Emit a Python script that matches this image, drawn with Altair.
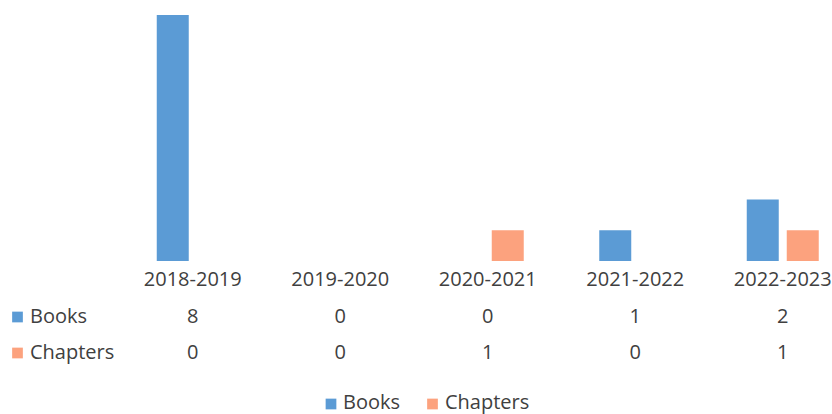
import altair as alt
import pandas as pd

years = ["2018-2019", "2019-2020", "2020-2021", "2021-2022", "2022-2023"]
series = ["Books", "Chapters"]
books = [8, 0, 0, 1, 2]
chapters = [0, 0, 1, 0, 1]
colors = ["#5B9BD5", "#FCA27E"]

rows = []
for y, b, c in zip(years, books, chapters):
    rows.append({"year": y, "series": "Books", "value": b})
    rows.append({"year": y, "series": "Chapters", "value": c})
df = pd.DataFrame(rows)
yr_df = pd.DataFrame({"year": years})
ser_df = pd.DataFrame({"series": series})

FONT = "Open Sans"
FS = 20
TC = "#404040"
W, H = 713, 246

xscale = alt.Scale(domain=years, range=[0, 737.5], paddingInner=0, paddingOuter=0)
cscale = alt.Scale(domain=series, range=colors)
xenc = alt.X("year:N", scale=xscale, axis=None, sort=years)

bars = alt.Chart(df).mark_bar().encode(
    x=xenc,
    xOffset=alt.XOffset("series:N", scale=alt.Scale(domain=series, paddingInner=0.2, paddingOuter=0.94375)),
    y=alt.Y("value:Q", scale=alt.Scale(domain=[0, 8], nice=False), axis=None),
    color=alt.Color("series:N", scale=cscale, legend=None),
)

txt = dict(font=FONT, fontSize=FS, color=TC, baseline="middle")

year_labels = alt.Chart(yr_df).mark_text(**txt).encode(
    x=xenc, y=alt.value(265), text="year:N"
)

layers = [bars, year_labels]
row_y = [302, 338]
for i, s in enumerate(series):
    vals = alt.Chart(df).transform_filter(alt.datum.series == s).mark_text(**txt).encode(
        x=xenc, y=alt.value(row_y[i]), text="value:Q"
    )
    lab = alt.Chart(ser_df).transform_filter(alt.datum.series == s).mark_text(align="left", **txt).encode(
        x=alt.value(-89), y=alt.value(row_y[i]), text="series:N"
    )
    sq = alt.Chart(ser_df).transform_filter(alt.datum.series == s).mark_square(size=115, opacity=1).encode(
        x=alt.value(-101.5), y=alt.value(row_y[i]),
        color=alt.Color("series:N", scale=cscale, legend=None),
    )
    layers += [vals, lab, sq]

leg_sq_x = [212, 313.5]
leg_tx_x = [224, 326]
for i, s in enumerate(series):
    sq = alt.Chart(ser_df).transform_filter(alt.datum.series == s).mark_square(size=115, opacity=1).encode(
        x=alt.value(leg_sq_x[i]), y=alt.value(389),
        color=alt.Color("series:N", scale=cscale, legend=None),
    )
    lab = alt.Chart(ser_df).transform_filter(alt.datum.series == s).mark_text(align="left", **txt).encode(
        x=alt.value(leg_tx_x[i]), y=alt.value(388), text="series:N"
    )
    layers += [sq, lab]

chart = alt.layer(*layers).properties(
    width=W, height=H,
    autosize=alt.AutoSizeParams(type="none"),
    padding={"left": 119, "top": 15, "right": 0, "bottom": 153},
    background="white",
).configure_view(stroke=None)

chart.save("out.html", embed_options={"renderer": "svg", "actions": False})
